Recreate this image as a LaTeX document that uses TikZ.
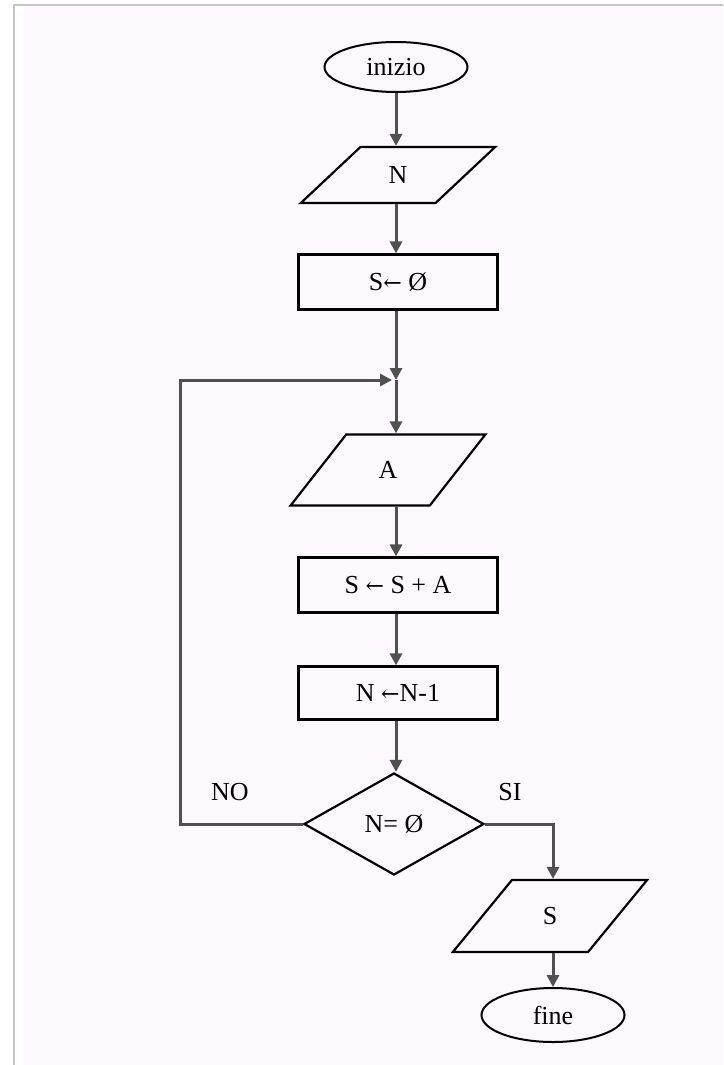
\documentclass[tikz,border=0pt]{standalone}
\usepackage{fontspec}
\setmainfont{Liberation Serif}
\newfontfamily\arrowfont{DejaVu Serif}
\usetikzlibrary{arrows.meta, positioning, shapes.geometric, calc}
\definecolor{cline}{HTML}{505050}
\definecolor{cframe}{HTML}{C4C4C4}
\definecolor{cpaper}{HTML}{FDF8FD}
\newcommand{\getsarrow}{{\arrowfont\fontsize{11}{13}\selectfont ←}}
\tikzset{
  every picture/.style={x=0.5pt, y=-0.5pt, font=\fontsize{13}{15}\selectfont},
  term/.style={draw, ellipse, line width=1pt, minimum width=71.5pt, minimum height=25pt, inner sep=0pt},
  io/.style={draw, trapezium, trapezium left angle=50, trapezium right angle=130, trapezium stretches=true, line width=1.1pt, minimum width=97.5pt, minimum height=28pt},
  proc/.style={draw, rectangle, line width=1.1pt, minimum width=99.5pt, minimum height=27.5pt},
  test/.style={draw, diamond, aspect=1.76, line width=1.1pt, minimum width=90pt, minimum height=51pt, inner sep=0pt},
  flow/.style={-{Triangle[length=6pt, width=6pt]}, draw=cline, line width=1.5pt},
  lab/.style={font=\fontsize{13}{15}\selectfont},
}

\begin{document}
\begin{tikzpicture}
  \useasboundingbox (0,0) rectangle (723,1065);
  % page
  \fill[cpaper] (24,7) rectangle (723,1065);
  \draw[cframe, line width=1pt] (14,1065) -- (14,5) -- (723,5);
  % main column
  \node[term] (inizio) at (396,67) {inizio};
  \node[io] (n) at (398,175) {N};
  \node[proc] (s0) at (398,282) {S\getsarrow\ Ø};
  \coordinate (join) at (396,380);
  \node[io, minimum height=35.5pt, trapezium left angle=55, trapezium right angle=125] (a) at (388,470) {A};
  \node[proc] (sum) at (398,585) {S \getsarrow\ S + A};
  \node[proc, minimum height=26.5pt] (dec) at (398,693) {N \getsarrow N-1};
  \node[test] (cond) at (394,824) {N= Ø};
  % exit
  \node[io, minimum height=36pt, trapezium left angle=55, trapezium right angle=125] (out) at (550,916) {S};
  \node[term, minimum height=27pt] (fine) at (553,1015) {fine};
  \coordinate (turn) at (cond.west -| 180,0);
  \node[lab] (no) at (230,792) {NO};
  \node[lab] (si) at (510,792) {SI};
  % connectors
  \draw[flow] (inizio) -- (inizio |- n.north);
  \draw[flow] (inizio |- n.south) -- (inizio |- s0.north);
  \draw[flow] (join |- s0.south) -- (join);
  \draw[flow] (join) -- (join |- a.north);
  \draw[flow] (join |- a.south) -- (join |- sum.north);
  \draw[flow] (join |- sum.south) -- (join |- dec.north);
  \draw[flow] (join |- dec.south) -- (join |- cond.north);
  \draw[flow] (cond.west) -- (turn) |- ([xshift=-2pt]join);
  \draw[flow] (cond.east) -| (fine |- out.north);
  \draw[flow] (fine |- out.south) -- (fine);
\end{tikzpicture}
\end{document}
